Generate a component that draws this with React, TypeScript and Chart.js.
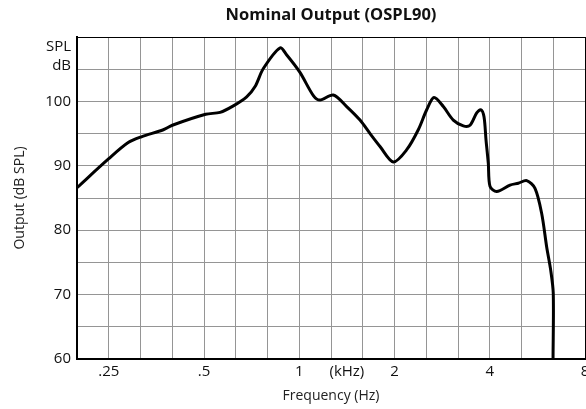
import React, { useEffect, useRef } from "react";
import { Chart, registerables } from "chart.js";

Chart.register(...registerables);

const freqKHz = [0.1984, 0.25, 0.288, 0.317, 0.372, 0.397, 0.506, 0.562, 0.619, 0.682, 0.725, 0.77, 0.869, 0.913, 1.005, 1.108, 1.163, 1.281, 1.412, 1.556, 1.674, 1.8, 1.983, 2.186, 2.378, 2.528, 2.666, 2.853, 3.068, 3.3, 3.465, 3.638, 3.753, 3.836, 3.893, 3.958, 4.008, 4.208, 4.636, 4.925, 5.234, 5.56, 5.837, 6.053, 6.233, 6.35, 6.34];
const outputDb = [86.6, 91.1, 93.6, 94.5, 95.6, 96.3, 98.0, 98.3, 99.3, 100.7, 102.3, 105.1, 108.3, 107.2, 104.5, 100.9, 100.2, 101.0, 99.2, 97.1, 95.0, 93.0, 90.6, 92.5, 95.6, 98.7, 100.6, 99.2, 97.1, 96.2, 96.3, 98.2, 98.7, 97.6, 94.0, 90.4, 86.8, 86.0, 87.0, 87.3, 87.7, 86.5, 82.6, 77.4, 73.8, 70.2, 60.0];

const xTickValues = [0.1984, 0.25, 0.315, 0.397, 0.5, 0.63, 0.794, 1, 1.26, 1.414, 1.587, 2, 2.52, 3.175, 4, 5.04, 6.35, 8];
const xTickLabels = ["", ".25", "", "", ".5", "", "", "1", "", "(kHz)", "", "2", "", "", "4", "", "", "8"];
const xLabelOnly = [1.414];

const yTickValues = [60, 65, 70, 75, 80, 85, 90, 95, 100, 105, 105.5, 110];
const yTickLabels: (string | string[])[] = ["60", "", "70", "", "80", "", "90", "", "100", "", ["SPL", "dB", ""], ""];
const yLabelOnly = [105.5];

const TITLE = "Nominal Output (OSPL90)";
const X_TITLE = "Frequency (Hz)";
const Y_TITLE = "Output (dB SPL)";

const FONT = "'Open Sans', 'Noto Sans', sans-serif";

export default function App() {
  const ref = useRef<HTMLCanvasElement>(null);

  useEffect(() => {
    if (!ref.current) return;
    const gridColor = (labelOnly: number[], edge: number) => (ctx: any) => {
      const v = ctx.tick ? ctx.tick.value : undefined;
      if (labelOnly.includes(v)) return "rgba(0,0,0,0)";
      if (v === edge) return "#000";
      return "#959595";
    };
    const chart = new Chart(ref.current, {
      type: "line",
      data: {
        datasets: [
          {
            data: freqKHz.map((f, i) => ({ x: f, y: outputDb[i] })),
            borderColor: "#000",
            borderWidth: 3,
            pointRadius: 0,
            tension: 0.3,
            fill: false,
          },
        ],
      },
      options: {
        responsive: false,
        animation: false,
        layout: { padding: { left: 0, right: 1, top: 0, bottom: 0 } },
        plugins: {
          legend: { display: false },
          tooltip: { enabled: false },
          title: {
            display: true,
            text: TITLE,
            fullSize: false,
            color: "#111",
            font: { family: FONT, size: 16.5, weight: "bold", lineHeight: 1.2 },
            padding: { top: 5.6, bottom: 11.6 },
          },
        },
        scales: {
          x: {
            type: "logarithmic",
            min: 0.1984,
            max: 8,
            border: { color: "#000", width: 2 },
            grid: { color: gridColor(xLabelOnly, 8), lineWidth: 1, drawTicks: false },
            ticks: {
              autoSkip: false,
              maxRotation: 0,
              padding: 4,
              color: "#111",
              font: { family: FONT, size: 15 },
              callback: (_v: any, i: number) => xTickLabels[i],
            },
            afterBuildTicks: (scale: any) => {
              scale.ticks = xTickValues.map((v) => ({ value: v }));
            },
            afterFit: (scale: any) => {
              scale.height = 50;
              scale.paddingLeft = 0;
              scale.paddingRight = 0;
            },
            title: {
              display: true,
              text: X_TITLE,
              color: "#222",
              font: { family: FONT, size: 14, lineHeight: 1.2 },
              padding: { top: 0, bottom: 5 },
            },
          },
          y: {
            type: "linear",
            min: 60,
            max: 110,
            border: { color: "#000", width: 2 },
            grid: { color: gridColor(yLabelOnly, 110), lineWidth: 1, drawTicks: false },
            ticks: {
              autoSkip: false,
              padding: 6,
              color: "#111",
              font: { family: FONT, size: 15, lineHeight: 1.25 },
              callback: (_v: any, i: number) => yTickLabels[i],
            },
            afterBuildTicks: (scale: any) => {
              scale.ticks = yTickValues.map((v) => ({ value: v }));
            },
            afterFit: (scale: any) => {
              scale.width = 77;
              scale.paddingTop = 0;
              scale.paddingBottom = 0;
            },
            title: {
              display: true,
              text: Y_TITLE,
              color: "#222",
              font: { family: FONT, size: 14, lineHeight: 1.2 },
              padding: { top: 11.6, bottom: 0 },
            },
          },
        },
      },
    });
    return () => chart.destroy();
  }, []);

  return (
    <div style={{ position: "absolute", left: 0, top: 0, width: 586, height: 409, background: "#fff" }}>
      <canvas ref={ref} width={586} height={409} style={{ display: "block" }} />
    </div>
  );
}
